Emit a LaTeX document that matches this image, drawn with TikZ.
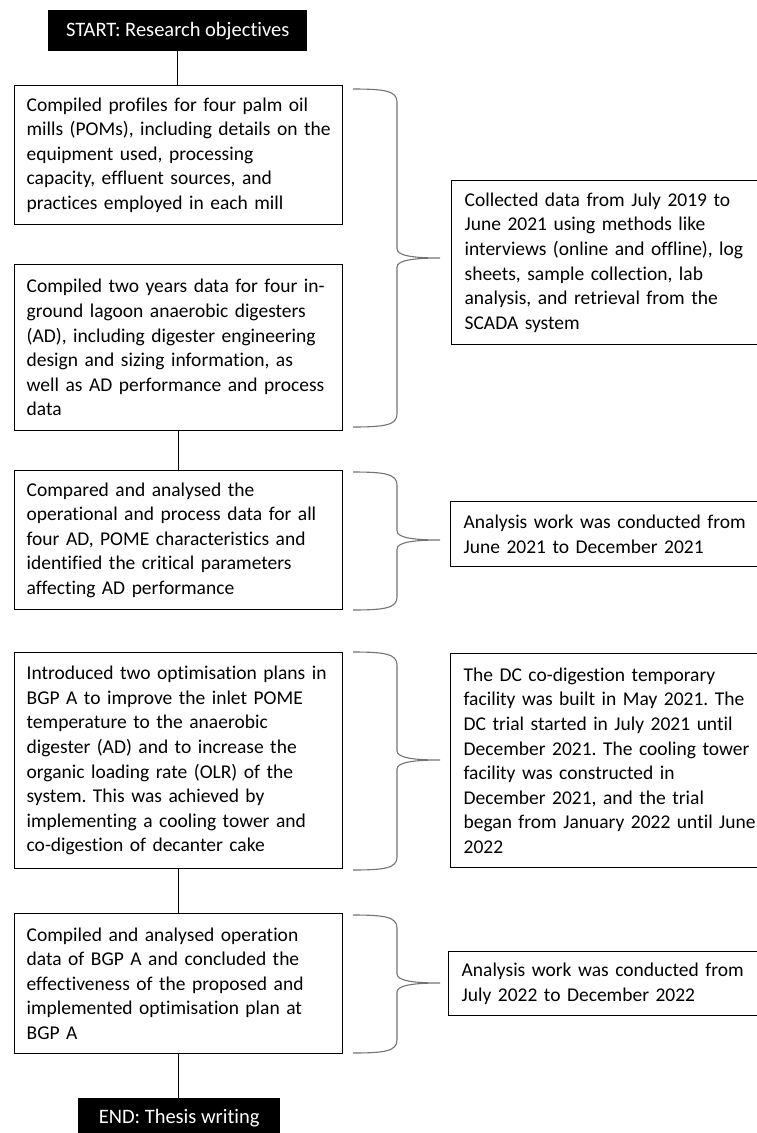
\documentclass[tikz,border=0pt]{standalone}
\usepackage{fontspec}
\setmainfont{Carlito}[Ligatures={NoCommon}]
\newcommand\drawbrace[3]{%
  \draw[brc] (353,#1) .. controls (385,#1) and (397,#1+2) .. (397,#1+13)
    -- (397,#3-9) .. controls (397,#3-2) and (415,#3) .. (440,#3)
    .. controls (415,#3) and (397,#3+2) .. (397,#3+9)
    -- (397,#2-13) .. controls (397,#2-2) and (385,#2) .. (353,#2);}
\begin{document}
\frenchspacing
\begin{tikzpicture}[x=1pt,y=-1pt,
  txt/.style={font=\fontsize{19.5}{24.6}\selectfont\frenchspacing},
  box/.style={txt, draw=black, line width=1.3pt, inner xsep=12pt, inner ysep=0pt,
    align=left, anchor=north west},
  lbox/.style={box, minimum width=328pt, text width=304pt},
  rbox/.style={box, inner xsep=13pt, minimum width=320pt, text width=300pt},
  term/.style={font=\fontsize{20.5}{24.6}\selectfont, fill=black, text=white, inner sep=0pt, anchor=north west},
  conn/.style={draw=black, line width=0.8pt},
  brc/.style={draw=black!55, line width=1.1pt}]
\useasboundingbox (0,0) rectangle (756,1133);

\node[term, minimum width=259pt, minimum height=41pt] (start) at (48,10) {START: Research objectives};

\node[lbox, minimum height=139pt] (b1) at (14,85)
 {Compiled profiles for four palm oil\\mills (POMs), including details on the\\equipment used, processing\\capacity, effluent sources, and\\practices employed in each mill};
\node[lbox, minimum height=166pt] (b2) at (14,264)
 {Compiled two years data for four in-\\ground lagoon anaerobic digesters\\(AD), including digester engineering\\design and sizing information, as\\well as AD performance and process\\data};
\node[lbox, minimum height=139pt] (b3) at (14,470)
 {Compared and analysed the\\operational and process data for all\\four AD, POME characteristics and\\identified the critical parameters\\affecting AD performance};
\node[lbox, minimum height=216pt] (b4) at (14,652)
 {Introduced two optimisation plans in\\BGP A to improve the inlet POME\\temperature to the anaerobic\\digester (AD) and to increase the\\organic loading rate (OLR) of the\\system. This was achieved by\\implementing a cooling tower and\\co-digestion of decanter cake};
\node[lbox, minimum height=140pt] (b5) at (14,913)
 {Compiled and analysed operation\\data of BGP A and concluded the\\effectiveness of the proposed and\\implemented optimisation plan at\\BGP A};

\node[rbox, minimum height=164pt] (r1) at (451,180)
 {Collected data from July 2019 to\\June 2021 using methods like\\interviews (online and offline), log\\sheets, sample collection, lab\\analysis, and retrieval from the\\SCADA system};
\node[rbox, minimum height=65pt] (r2) at (450,501)
 {Analysis work was conducted from\\June 2021 to December 2021};
\node[rbox, minimum height=214pt] (r3) at (450,653)
 {The DC co-digestion temporary\\facility was built in May 2021. The\\DC trial started in July 2021 until\\December 2021. The cooling tower\\facility was constructed in\\December 2021, and the trial\\began from January 2022 until June\\2022};
\node[rbox, minimum height=64pt] (r4) at (448,951)
 {Analysis work was conducted from\\July 2022 to December 2022};

\node[term, minimum width=202pt, minimum height=44pt] (end) at (78,1098) {\raisebox{7pt}{END: Thesis writing}};

\draw[conn] (start.south) -- (start.south |- b1.north);
\draw[conn] (b2.south) -- (b3.north);
\draw[conn] (b4.south) -- (b5.north);
\draw[conn] (b5.south) -- (b5.south |- end.north);

\drawbrace{89}{427}{258}
\drawbrace{472}{610}{540}
\drawbrace{652}{870}{760}
\drawbrace{915}{1053}{983}
\end{tikzpicture}
\end{document}
